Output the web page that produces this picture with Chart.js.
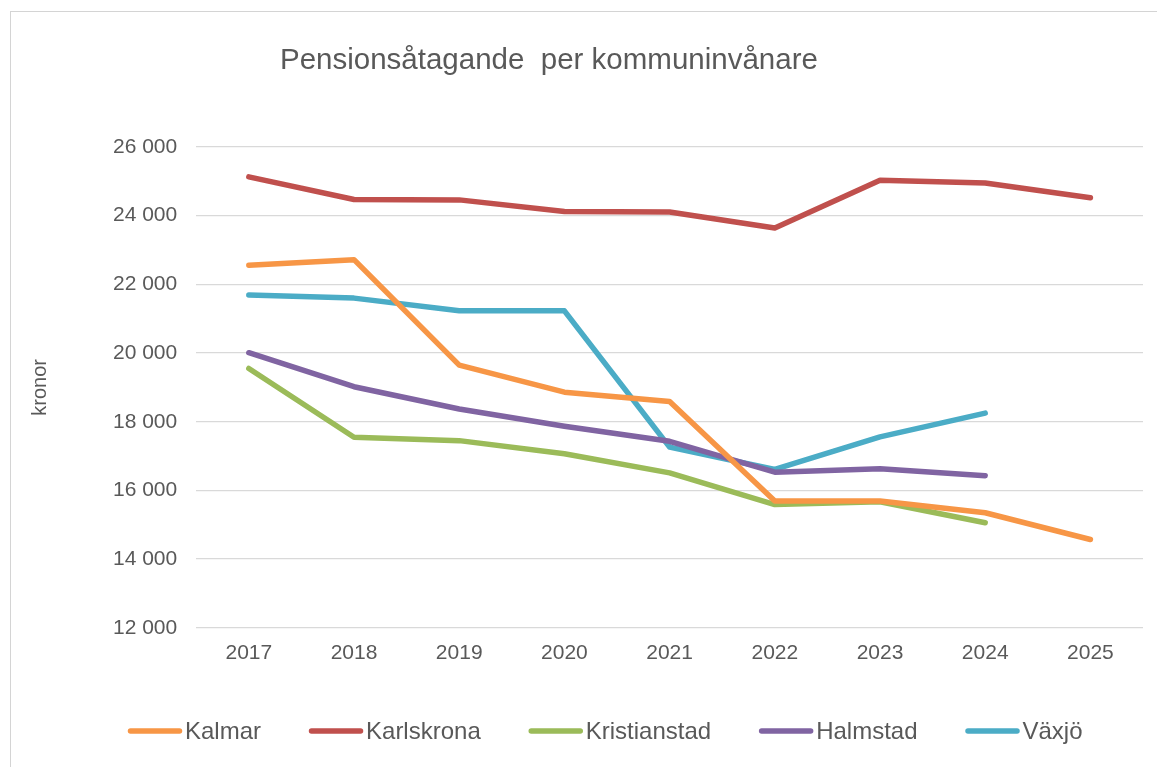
<!DOCTYPE html>
<html lang="sv">
<head>
<meta charset="utf-8">
<title>Pensionsåtagande per kommuninvånare</title>
<script src="https://cdn.jsdelivr.net/npm/chart.js@4"></script>
<style>
  html, body { margin: 0; padding: 0; background: #fff; }
  #wrap { width: 1157px; height: 767px; }
</style>
</head>
<body>
<div id="wrap"><canvas id="pensionchart"></canvas></div>
<script>
const years = ["2017", "2018", "2019", "2020", "2021", "2022", "2023", "2024", "2025"];

const kalmar = [22560, 22720, 19650, 18860, 18590, 15690, 15690, 15350, 14570];
const karlskrona = [25130, 24470, 24460, 24120, 24110, 23640, 25030, 24950, 24520];
const kristianstad = [19550, 17550, 17450, 17070, 16510, 15590, 15670, 15060, null];
const halmstad = [20010, 19020, 18370, 17870, 17430, 16530, 16630, 16430, null];
const vaxjo = [21690, 21600, 21230, 21230, 17260, 16610, 17560, 18250, null];

const yMin = 12000;
const yMax = 26000;
const yStep = 2000;

const textColor = "#595959";
const gridColor = "#d9d9d9";
const fontFamily = "'Liberation Sans', Arial, sans-serif";

function line(label, values, color) {
  return {
    label: label,
    data: values,
    borderColor: color,
    backgroundColor: color,
    borderWidth: 5.5,
    borderCapStyle: "round",
    borderJoinStyle: "round",
    pointRadius: 0,
    pointHoverRadius: 0,
    tension: 0,
    fill: false,
  };
}

// frame, heading and legend row drawn straight onto the canvas
const decorations = {
  id: "decorations",
  beforeDraw(chart) {
    const ctx = chart.ctx;
    ctx.save();
    ctx.strokeStyle = "#d4d4d4";
    ctx.lineWidth = 1;
    ctx.strokeRect(10.5, 11.5, chart.width + 20, chart.height + 20);
    ctx.restore();
  },
  afterDraw(chart) {
    const ctx = chart.ctx;
    ctx.save();
    ctx.fillStyle = textColor;
    ctx.font = "29.5px " + fontFamily;
    ctx.textAlign = "left";
    ctx.textBaseline = "alphabetic";
    ctx.fillText("Pensionsåtagande  per kommuninvånare", 280, 69);

    ctx.font = "24px " + fontFamily;
    ctx.textBaseline = "middle";
    const rowY = 731;
    let x = 128;
    chart.data.datasets.forEach((ds) => {
      ctx.strokeStyle = ds.borderColor;
      ctx.lineWidth = 5.5;
      ctx.lineCap = "round";
      ctx.beginPath();
      ctx.moveTo(x + 2.5, rowY);
      ctx.lineTo(x + 51.5, rowY);
      ctx.stroke();
      ctx.fillText(ds.label, x + 57, rowY + 1);
      x += 57 + ctx.measureText(ds.label).width + 48;
    });
    ctx.restore();
  },
};

new Chart(document.getElementById("pensionchart"), {
  type: "line",
  data: {
    labels: years,
    datasets: [
      line("Kalmar", kalmar, "#f79646"),
      line("Karlskrona", karlskrona, "#c0504d"),
      line("Kristianstad", kristianstad, "#9bbb59"),
      line("Halmstad", halmstad, "#8064a2"),
      line("Växjö", vaxjo, "#4bacc6"),
    ],
  },
  options: {
    responsive: true,
    maintainAspectRatio: false,
    animation: false,
    layout: {
      padding: { top: 147, right: 14, bottom: 88, left: 20 },
    },
    plugins: {
      legend: { display: false },
      title: { display: false },
      tooltip: { enabled: false },
    },
    scales: {
      x: {
        offset: true,
        border: { display: false },
        grid: { display: false, drawTicks: false },
        ticks: {
          color: textColor,
          padding: 13,
          font: { family: fontFamily, size: 21 },
        },
      },
      y: {
        min: yMin,
        max: yMax,
        border: { display: false },
        grid: { color: gridColor, lineWidth: 1.3, drawTicks: false },
        ticks: {
          stepSize: yStep,
          color: textColor,
          padding: 19,
          font: { family: fontFamily, size: 21 },
          callback: (v) => String(v).replace(/\B(?=(\d{3})+(?!\d))/g, " "),
        },
        title: {
          display: true,
          text: "kronor",
          color: textColor,
          padding: { top: 8, bottom: 42 },
          font: { family: fontFamily, size: 20 },
        },
      },
    },
  },
  plugins: [decorations],
});
</script>
</body>
</html>
